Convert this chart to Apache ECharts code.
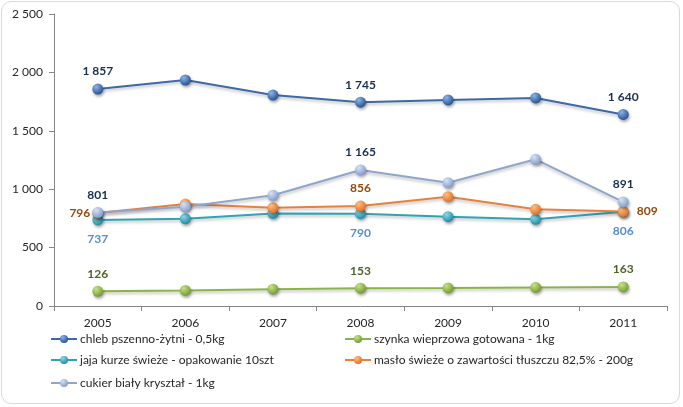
<!DOCTYPE html>
<html><head><meta charset="utf-8">
<script src="https://cdn.jsdelivr.net/npm/echarts@6/dist/echarts.min.js"></script>
<style>
html,body{margin:0;padding:0;background:#fff;}
#frame{position:absolute;left:1px;top:1px;width:679px;height:403px;border:1px solid #d9d9d9;border-radius:10px;box-sizing:border-box;}
#c{position:absolute;left:0;top:0;width:683px;height:407px;}
</style></head><body>
<div id="frame"></div>
<div id="c"></div>
<script>
const years = ['2005','2006','2007','2008','2009','2010','2011'];
const names = ['chleb pszenno-żytni - 0,5kg','szynka wieprzowa gotowana - 1kg','jaja kurze świeże - opakowanie 10szt','masło świeże o zawartości tłuszczu 82,5% - 200g','cukier biały kryształ - 1kg'];
const bread = [1857, 1935, 1806, 1745, 1764, 1781, 1640];
const ham = [126, 133, 144, 153, 155, 159, 163];
const eggs = [737, 747, 793, 790, 765, 742, 806];
const butter = [796, 873, 842, 856, 936, 828, 809];
const sugar = [801, 850, 948, 1165, 1056, 1256, 891];
const labelIdx = [0, 3, 6];

const fmt = v => String(v).replace(/\B(?=(\d{3})+(?!\d))/g, ' ');
const FONT = 'Lato';

function sphere(c1, c2){
  return {type:'radial', x:0.35, y:0.3, r:0.75, colorStops:[{offset:0,color:c1},{offset:1,color:c2}]};
}
function mk(name, data, lineColor, c1, c2, labColor, labPos){
  return {
    name, type:'line', data, symbol:'circle', symbolSize:11,
    lineStyle:{color:lineColor, width:2, shadowColor:'rgba(0,0,0,0.25)', shadowBlur:3, shadowOffsetY:2},
    itemStyle:{color:sphere(c1,c2), borderWidth:0, shadowColor:'rgba(0,0,0,0.35)', shadowBlur:3, shadowOffsetX:1, shadowOffsetY:2},
    label:{show:true, fontFamily:FONT, fontSize:12, fontWeight:'bold', color:labColor,
      position: labPos, distance:6,
      formatter: p => labelIdx.includes(p.dataIndex) ? fmt(p.value) : ''},
    emphasis:{disabled:true}
  };
}
const chart = echarts.init(document.getElementById('c'));
const series = [
  mk(names[0], bread, '#3b6aa6', '#8fb3e3', '#1f4f93', '#1a2f4f', 'top'),
  mk(names[1], ham, '#8cb34a', '#c8e08a', '#6f9a2c', '#4f6228', 'top'),
  mk(names[2], eggs, '#2fa3b5', '#8fd8e6', '#1a8aa0', '#558ed5', 'bottom'),
  mk(names[3], butter, '#e8803a', '#fbc08a', '#e06c1c', '#984807', 'top'),
  mk(names[4], sugar, '#8ea6cc', '#d6e2f3', '#7f9acb', '#1a2f4f', 'top')
];
series[3].data = butter.map((v,i)=>({value:v, label:{position: i===0?'left':(i===6?'right':'top'), distance: i===0?2:(i===6?8:6)}}));
series[2].label.distance = 8;

const legendBase = {itemWidth:26, itemHeight:10, itemGap:0, textStyle:{fontFamily:FONT, fontSize:12, color:'#262626', padding:[0,0,0,-2]}, padding:0};
const legendPos = [[50,333],[344,333],[50,354],[344,354],[50,377]];
const legends = names.map((n,i)=>Object.assign({}, legendBase, {data:[n], left:legendPos[i][0], top:legendPos[i][1]}));

chart.setOption({
  animation:false,
  grid:{left:54, right:16, top:14, bottom:101},
  xAxis:{type:'category', data:years, boundaryGap:true,
    axisLine:{lineStyle:{color:'#868686'}},
    axisTick:{show:true, length:5, lineStyle:{color:'#868686'}},
    axisLabel:{fontFamily:FONT, fontSize:12, color:'#262626', margin:11}},
  yAxis:{type:'value', min:0, max:2500, interval:500,
    axisLine:{show:true, lineStyle:{color:'#868686'}},
    axisTick:{show:true, length:5, lineStyle:{color:'#868686'}},
    splitLine:{show:false},
    axisLabel:{fontFamily:FONT, fontSize:12, color:'#262626', margin:11, formatter: v => fmt(v)}},
  legend: legends,
  series
});
</script></body></html>
